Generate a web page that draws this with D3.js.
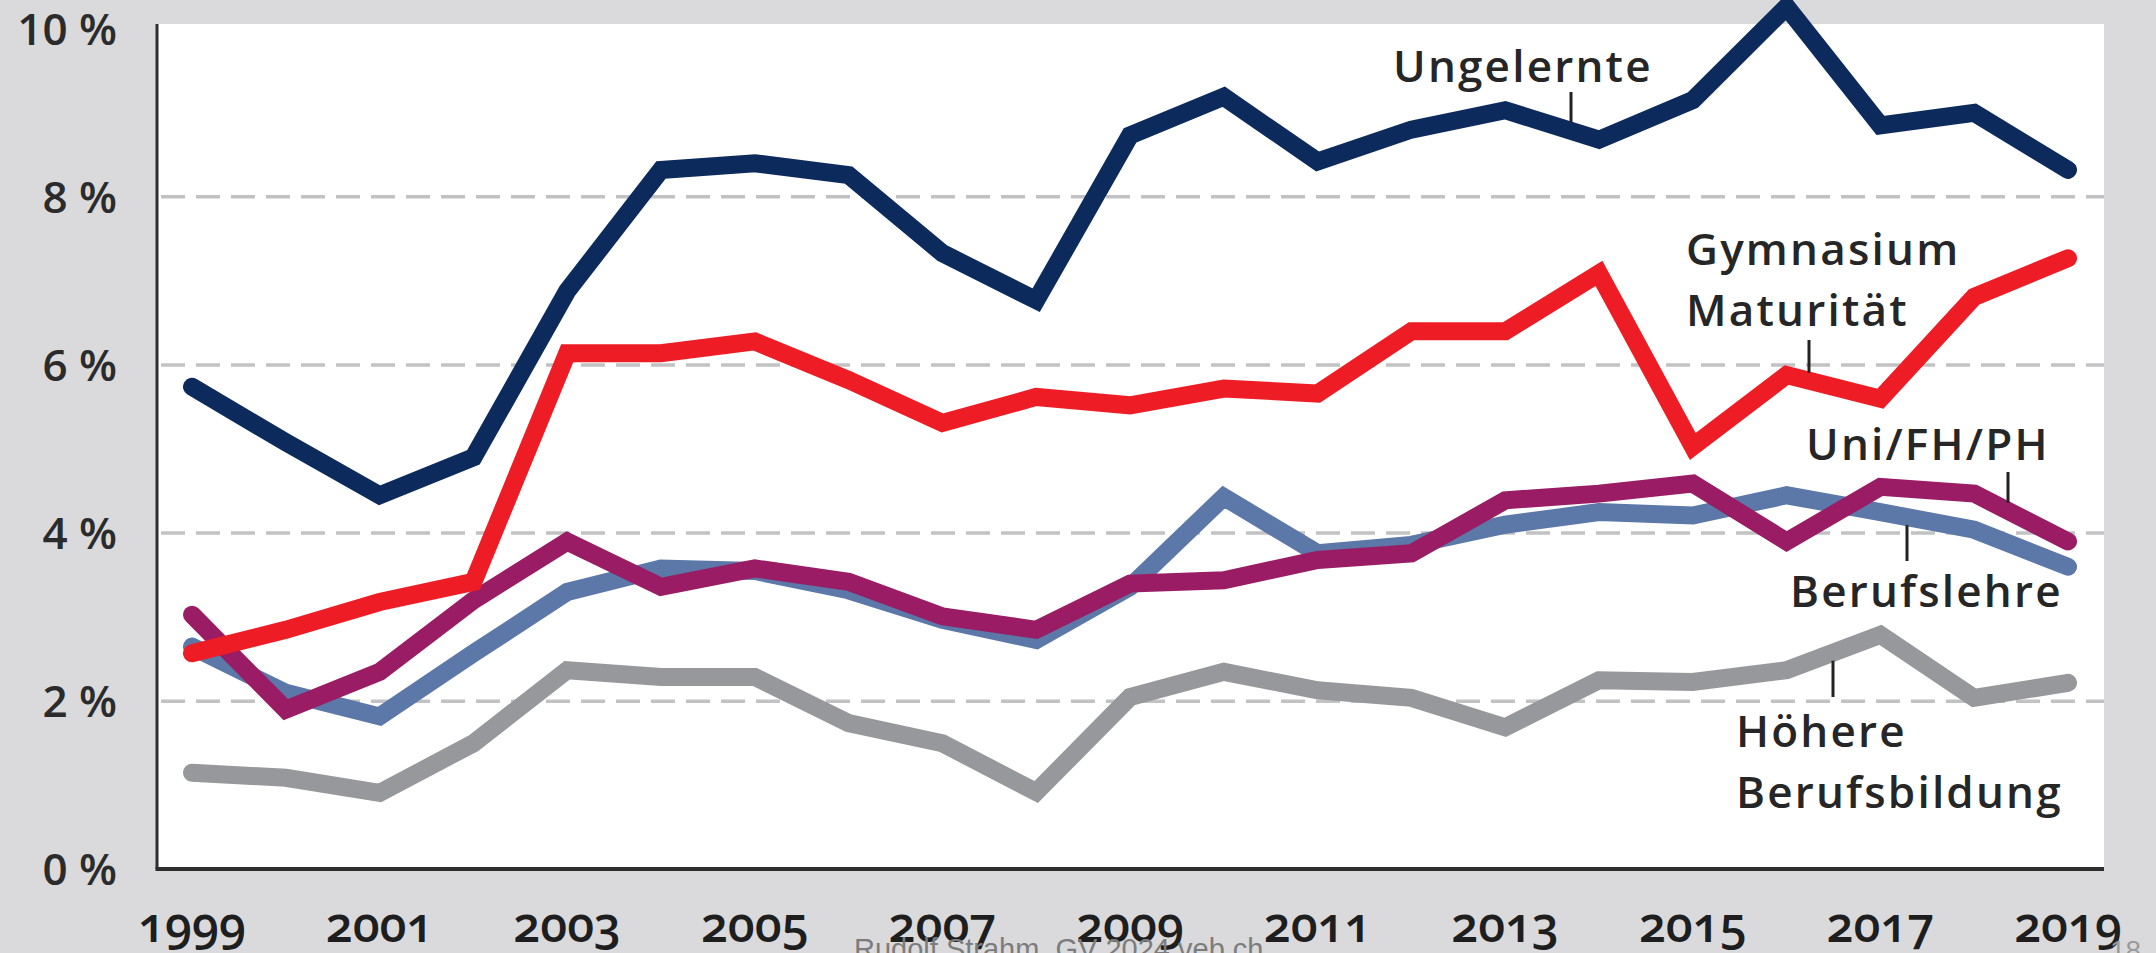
<!DOCTYPE html>
<html><head><meta charset="utf-8">
<script src="https://cdn.jsdelivr.net/npm/d3@7"></script>
<style>
html,body{margin:0;padding:0;background:#dadadc;overflow:hidden}
svg{display:block}
</style></head><body>
<svg id="chart" width="2156" height="953"></svg>
<script>
// ---- data ----
const years = [1999,2000,2001,2002,2003,2004,2005,2006,2007,2008,2009,2010,2011,2012,2013,2014,2015,2016,2017,2018,2019];
const ungelernte   = [5.74,5.08,4.45,4.90,6.88,8.32,8.40,8.26,7.33,6.77,8.73,9.19,8.42,8.80,9.03,8.68,9.15,10.26,8.85,9.00,8.32];
const gymnasium    = [2.57,2.85,3.18,3.42,6.14,6.14,6.28,5.82,5.31,5.62,5.52,5.72,5.66,6.40,6.40,7.09,5.03,5.88,5.60,6.81,7.27];
const uniFhPh      = [3.03,1.90,2.35,3.20,3.90,3.36,3.58,3.42,3.01,2.85,3.40,3.44,3.68,3.76,4.39,4.47,4.59,3.90,4.55,4.47,3.90];
const berufslehre  = [2.65,2.10,1.82,2.57,3.30,3.58,3.55,3.32,2.97,2.73,3.36,4.43,3.76,3.86,4.10,4.25,4.21,4.45,4.25,4.04,3.60];
const hoehereBB    = [1.15,1.09,0.91,1.50,2.37,2.29,2.29,1.74,1.50,0.92,2.05,2.35,2.13,2.04,1.69,2.25,2.23,2.37,2.79,2.04,2.22];
const yTicks = [0,2,4,6,8,10];
const xTickYears = [1999,2001,2003,2005,2007,2009,2011,2013,2015,2017,2019];
const seriesNames = ["Höhere Berufsbildung","Berufslehre","Uni/FH/PH","Gymnasium Maturität","Ungelernte"];
const footerText = "Rudolf Strahm, GV 2024 veb.ch";
const pageNumber = "18";

// ---- layout ----
const svg = d3.select("#chart");
const plotLeft = 157, plotRight = 2104, plotTop = 24, plotBottom = 869;
const x = d3.scaleLinear().domain([1999,2019]).range([192,2068]);
const y = d3.scaleLinear().domain([0,10]).range([869.4,28.7]);

svg.append("rect").attr("width",2156).attr("height",953).attr("fill","#dadadc");
svg.append("rect").attr("x",plotLeft).attr("y",plotTop)
  .attr("width",plotRight-plotLeft).attr("height",plotBottom-plotTop).attr("fill","#ffffff");

// gridlines
svg.append("g").selectAll("line").data(yTicks.filter(d=>d>0 && d<10)).join("line")
  .attr("x1",plotLeft+4).attr("x2",plotRight)
  .attr("y1",d=>y(d)).attr("y2",d=>y(d))
  .attr("stroke","#c2c2c4").attr("stroke-width",3.5)
  .attr("stroke-dasharray","24,11");

// y axis labels
const fontMain = "'Open Sans', sans-serif";
svg.append("g").selectAll("text").data(yTicks).join("text")
  .attr("x",117).attr("y",d=>y(d)).attr("dy","0.36em")
  .attr("text-anchor","end")
  .attr("font-family",fontMain).attr("font-size",44).attr("font-weight",600)
  .attr("fill","#2b2b2b")
  .text(d=>d+" %");

// x axis labels
svg.append("g").selectAll("text").data(xTickYears).join("text")
  .attr("x",d=>x(d)).attr("y",942)
  .attr("text-anchor","middle")
  .attr("font-family",fontMain).attr("font-size",48).attr("font-weight",600)
  .style("font-feature-settings","'onum'")
  .attr("fill","#1e1e1e")
  .text(d=>d);

// series lines
const seriesData = [hoehereBB, berufslehre, uniFhPh, gymnasium, ungelernte];
const colors = ["#97989c","#5b78a8","#9a1c64","#ee1d25","#0c2b5c"];
const line = d3.line().x((d,i)=>x(years[i])).y(d=>y(d));
svg.append("g").selectAll("path").data(seriesData).join("path")
  .attr("d",line)
  .attr("fill","none")
  .attr("stroke",(d,i)=>colors[i])
  .attr("stroke-width",18)
  .attr("stroke-linejoin","miter").attr("stroke-miterlimit",3)
  .attr("stroke-linecap","round");

// axes lines
svg.append("line").attr("x1",plotLeft).attr("x2",plotLeft).attr("y1",plotTop).attr("y2",plotBottom)
  .attr("stroke","#2e2e2e").attr("stroke-width",3);
svg.append("line").attr("x1",plotLeft-1.5).attr("x2",plotRight).attr("y1",plotBottom).attr("y2",plotBottom)
  .attr("stroke","#2e2e2e").attr("stroke-width",4);

// helpers to find line value at pixel x
function valueAt(series, px){
  const yr = x.invert(px);
  const i = Math.min(Math.floor(yr-1999), years.length-2);
  const t = yr-years[i];
  return series[i]*(1-t)+series[i+1]*t;
}

// annotations
const ann = [
  {lines:["Ungelernte"], x:1393, y:82, lead:{x:1571, from:92, series:ungelernte, side:"top"}},
  {lines:["Gymnasium","Maturität"], x:1686, y:265, lead:{x:1809, from:340, series:gymnasium, side:"top"}},
  {lines:["Uni/FH/PH"], x:1806, y:460, lead:{x:2008, from:472, series:uniFhPh, side:"top"}},
  {lines:["Berufslehre"], x:1790, y:607, lead:{x:1907, from:561, series:berufslehre, side:"bottom"}},
  {lines:["Höhere","Berufsbildung"], x:1736, y:747, lead:{x:1833, from:697, series:hoehereBB, side:"bottom"}}
];
const annG = svg.append("g");
ann.forEach(a=>{
  const t = annG.append("text").attr("x",a.x).attr("y",a.y)
    .attr("font-family",fontMain).attr("font-size",44).attr("font-weight",600)
    .attr("letter-spacing",2.2)
    .attr("fill","#262626");
  a.lines.forEach((l,k)=>t.append("tspan").attr("x",a.x).attr("dy",k===0?0:61).text(l));
  const ly = y(valueAt(a.lead.series, a.lead.x));
  const to = a.lead.side==="top" ? ly-8 : ly+8;
  annG.append("line").attr("x1",a.lead.x).attr("x2",a.lead.x)
    .attr("y1",a.lead.from).attr("y2",to)
    .attr("stroke","#222").attr("stroke-width",3);
});

// footer
svg.append("text").attr("x",854).attr("y",959)
  .attr("font-family","'Liberation Sans', sans-serif").attr("font-size",29)
  .attr("fill","#7c7c7c").text(footerText);
svg.append("text").attr("x",2110).attr("y",960)
  .attr("font-family","'Liberation Sans', sans-serif").attr("font-size",28)
  .attr("fill","#9a9a9a").text(pageNumber);
</script>
</body></html>
